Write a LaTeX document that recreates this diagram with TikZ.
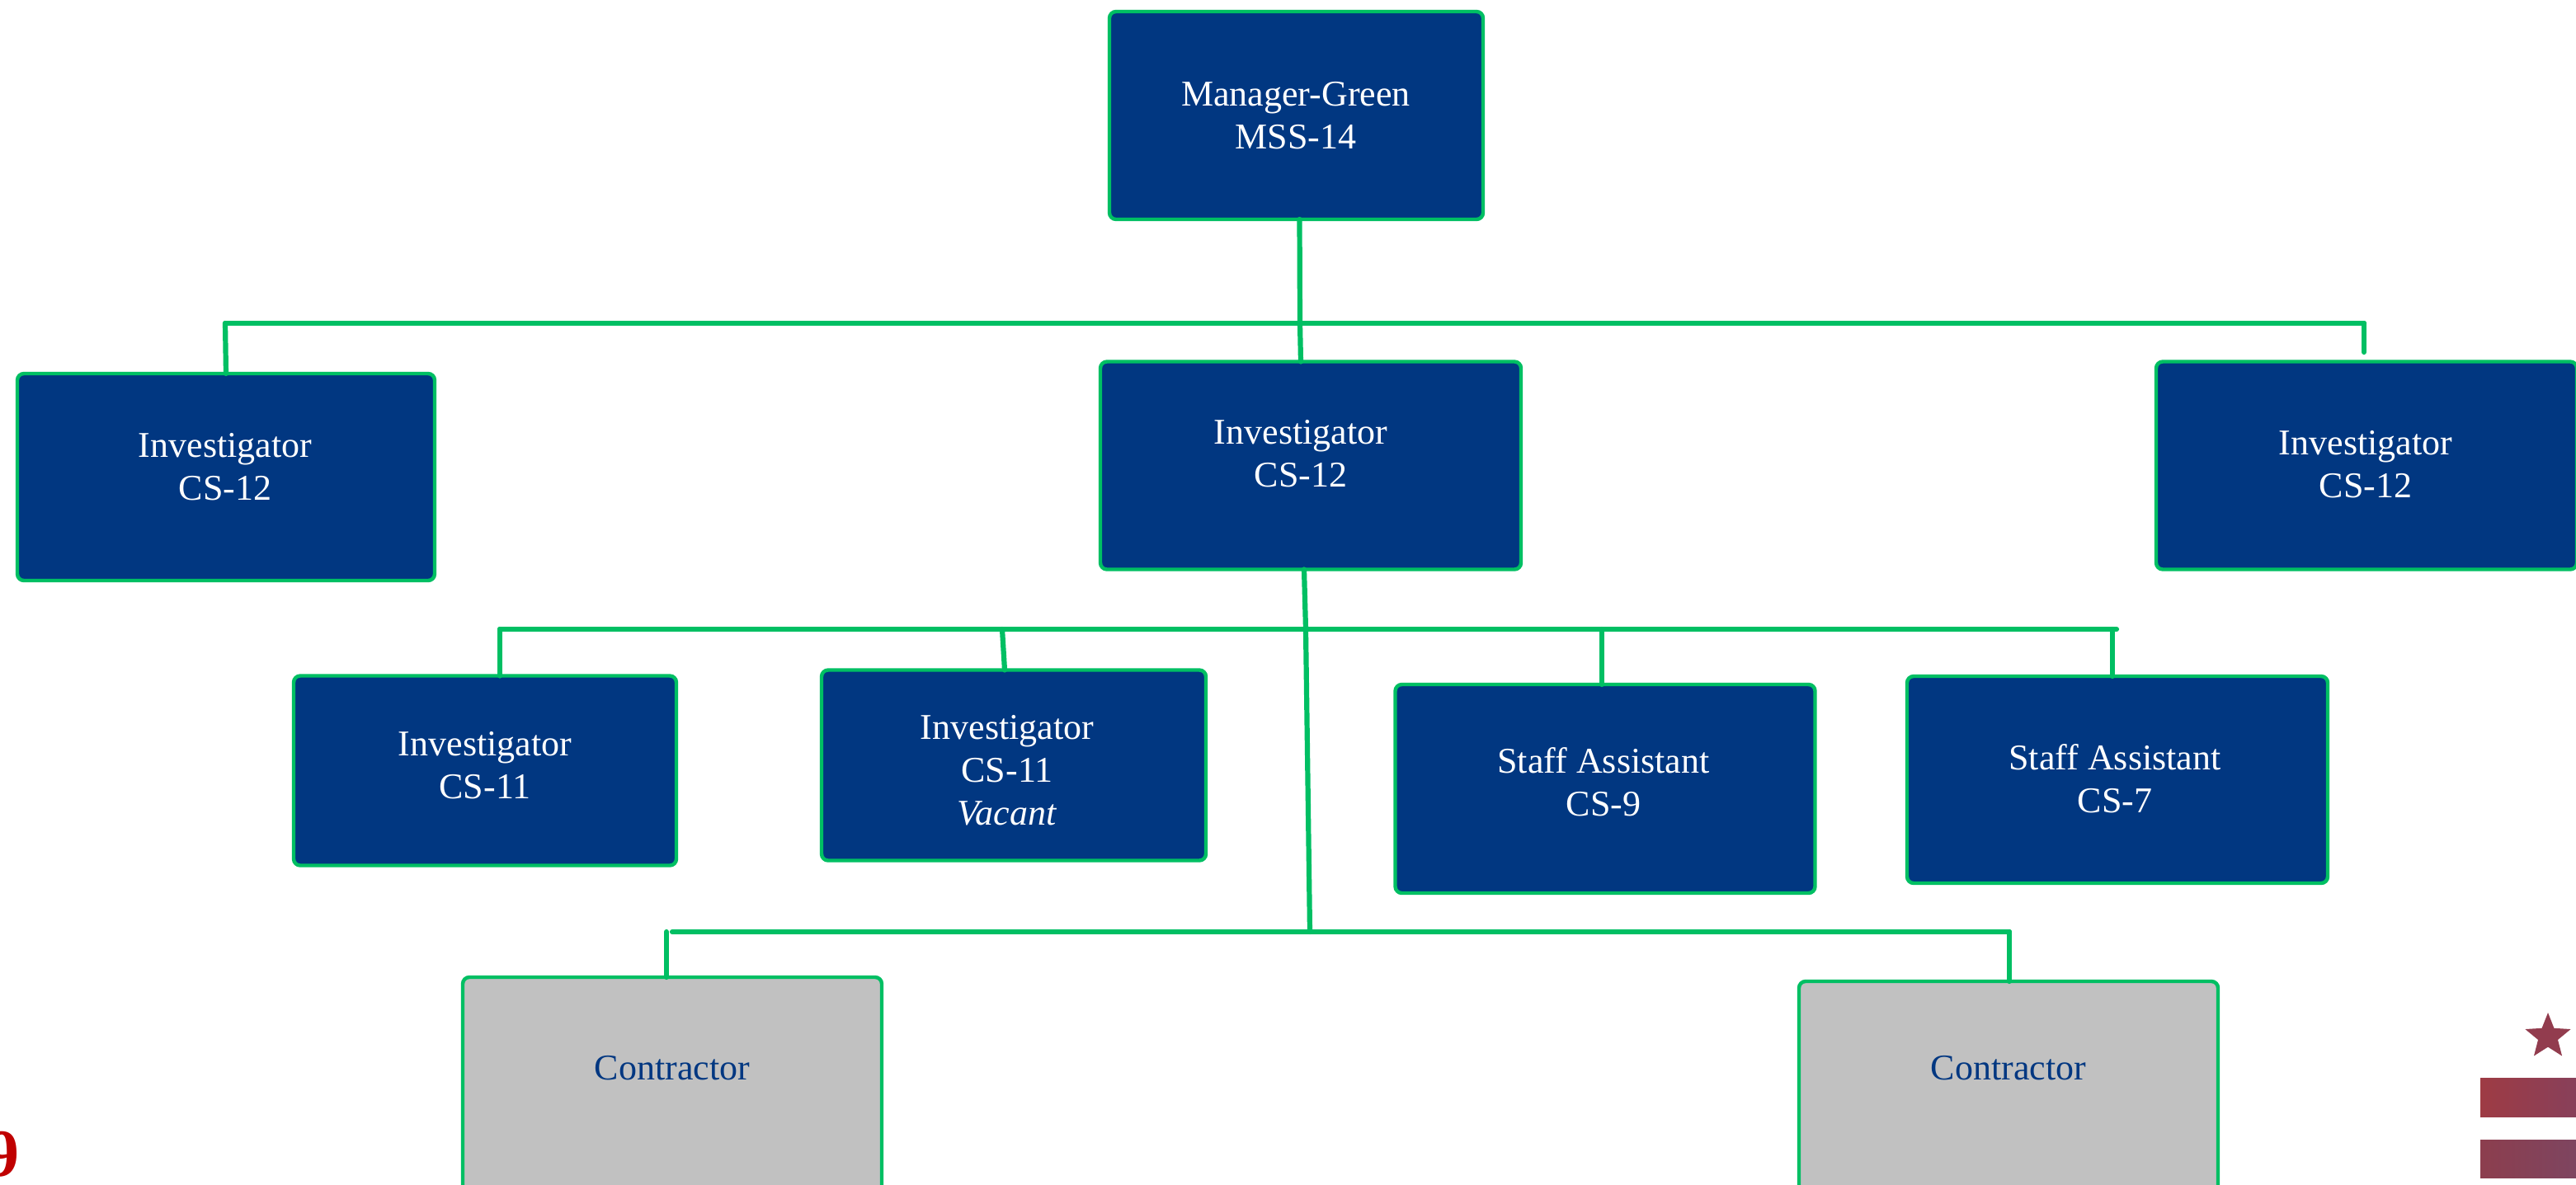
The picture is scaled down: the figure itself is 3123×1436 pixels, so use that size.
\documentclass[tikz,border=0pt]{standalone}
\usepackage{fontspec}
\setmainfont{Liberation Serif}
\usetikzlibrary{shapes.geometric}
\definecolor{navy}{HTML}{013781}
\definecolor{lime}{HTML}{00BF63}
\definecolor{gbox}{HTML}{C1C1C1}
\definecolor{logored}{HTML}{923C4E}
\definecolor{pagered}{HTML}{C00000}
\tikzset{
  orgbox/.style={rectangle,rounded corners=4pt,draw=lime,line width=2.2pt,outer sep=0pt,inner sep=0pt},
  bluebox/.style={orgbox,fill=navy},
  graybox/.style={orgbox,fill=gbox},
  wtext/.style={text=white,align=center,inner sep=0pt,font=\fontsize{22}{26}\selectfont},
  btext/.style={text=navy,align=center,inner sep=0pt,font=\fontsize{22}{26}\selectfont},
  conn/.style={draw=lime,line width=3.1pt,line cap=round},
}
\begin{document}
\begin{tikzpicture}[x=0.5pt,y=-0.5pt]
\clip (0,0) rectangle (3123,1436);
\fill[white] (0,0) rectangle (3123,1436);

% connector coordinates
\coordinate (jtop) at (1576,392);
\coordinate (busL) at (273,392);
\coordinate (busR) at (2866,392);
\coordinate (endR) at (2866,427);
\coordinate (jmid) at (1583,763);
\coordinate (jlow) at (1588,1130);
\coordinate (b2L) at (606,763);
\coordinate (b2R) at (2566,763);
\coordinate (j2b) at (1215,763);
\coordinate (j2c) at (1942,763);
\coordinate (j2d) at (2561,763);
\coordinate (b3L) at (815,1130);
\coordinate (b3R) at (2436,1130);
\coordinate (d3L) at (808,1130);

% connectors
\draw[conn] (busL) -- (busR);
\draw[conn] (b2L) -- (b2R);
\draw[conn] (b3L) -- (b3R);
\draw[conn] (busR) -- (endR);

% boxes
\node[bluebox,minimum width=226.5pt,minimum height=126pt] (top) at (1571.5,140) {};
\node[bluebox,minimum width=253pt,minimum height=125.5pt] (invL) at (274,578.5) {};
\node[bluebox,minimum width=255pt,minimum height=126pt] (invC) at (1589,564.5) {};
\node[bluebox,minimum width=255pt,minimum height=126pt] (invR) at (2869,564.5) {};
\node[bluebox,minimum width=232pt,minimum height=115pt] (inv11) at (588,934.5) {};
\node[bluebox,minimum width=233pt,minimum height=115.5pt] (vac) at (1229,928) {};
\node[bluebox,minimum width=254.5pt,minimum height=126.5pt] (st9) at (1946,956.5) {};
\node[bluebox,minimum width=255pt,minimum height=125.5pt] (st7) at (2567,945.5) {};
\node[graybox,minimum width=254pt,minimum height=140pt] (conL) at (815,1325) {};
\node[graybox,minimum width=254pt,minimum height=138pt] (conR) at (2435,1328) {};

\draw[conn] (top.south) ++(4,0) -- (jtop) -- ([xshift=-6pt]invC.north);
\draw[conn] (busL) -- (invL.north);
\draw[conn] ([xshift=-4pt]invC.south) -- (jmid) -- (jlow);
\draw[conn] (b2L) -- (b2L |- inv11.north);
\draw[conn] (j2b) -- ([xshift=1.5pt]j2b |- vac.north);
\draw[conn] (j2c) -- (j2c |- st9.north);
\draw[conn] (j2d) -- (j2d |- st7.north);
\draw[conn] (d3L) -- (d3L |- conL.north);
\draw[conn] (b3R) -- (b3R |- conR.north);

% labels
\node[wtext] (t1) at (1571,140) {Manager-Green\\MSS-14};
\node[wtext] (t2) at (273,566) {Investigator\\CS-12};
\node[wtext] (t3) at (1577,550) {Investigator\\CS-12};
\node[wtext] (t4) at (2868,563) {Investigator\\CS-12};
\node[wtext] (t5) at (588,928) {Investigator\\CS-11};
\node[wtext] (t6) at (1221,934) {Investigator\\CS-11\\\textit{Vacant}};
\node[wtext] (t7) at (1944,948) {Staff Assistant\\CS-9};
\node[wtext] (t8) at (2564,944) {Staff Assistant\\CS-7};
\node[btext] (t9) at (815,1295) {Contractor};
\node[btext] (t10) at (2435,1295) {Contractor};

% logo
\node[star,star points=5,star point ratio=2.3,draw=none,minimum size=29pt,inner sep=0pt,fill=logored] (logostar) at (3089,1257) {};
\fill[left color={rgb,255:red,158;green,59;blue,68},right color={rgb,255:red,136;green,64;blue,90}] (3007,1307) rectangle (3123,1354);
\fill[left color={rgb,255:red,140;green,62;blue,78},right color={rgb,255:red,126;green,69;blue,96}] (3007,1382) rectangle (3123,1428);
\node[text=pagered,inner sep=0pt,font=\fontsize{41}{41}\selectfont\bfseries] (pg) at (3,1400) {9};
\end{tikzpicture}
\end{document}
